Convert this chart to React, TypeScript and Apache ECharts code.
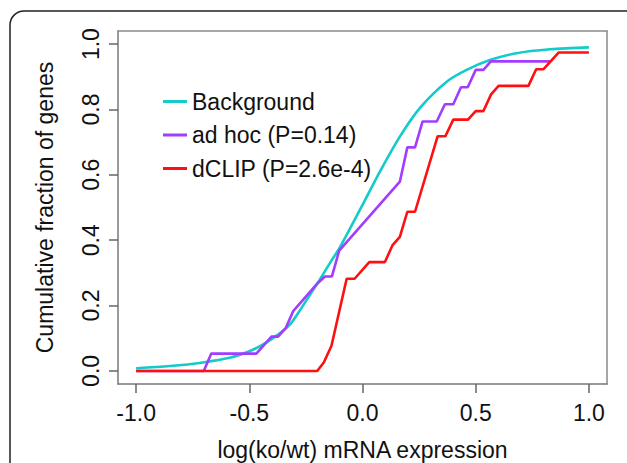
import React, { useEffect, useRef } from "react";
import * as echarts from "echarts";

const xTicks = [-1.0, -0.5, 0.0, 0.5, 1.0];
const yTicks = [0.0, 0.2, 0.4, 0.6, 0.8, 1.0];

const seriesNames = ["Background", "ad hoc (P=0.14)", "dCLIP (P=2.6e-4)"];
const seriesColors = ["#14CACA", "#A23CFF", "#FF1010"];

const backgroundX = [-1.0, -0.85, -0.705, -0.587, -0.5, -0.439, -0.38, -0.321, -0.277, -0.188, -0.144, -0.1, 0.003, 0.077, 0.165, 0.254, 0.372, 0.46, 0.563, 0.68, 0.829, 1.0];
const backgroundY = [0.008, 0.015, 0.026, 0.04, 0.06, 0.081, 0.108, 0.142, 0.185, 0.28, 0.33, 0.378, 0.512, 0.61, 0.717, 0.805, 0.885, 0.921, 0.951, 0.972, 0.984, 0.99];

const adhocX = [-1.0, -0.701, -0.668, -0.469, -0.402, -0.373, -0.34, -0.306, -0.203, -0.166, -0.135, -0.103, 0.165, 0.198, 0.232, 0.265, 0.328, 0.364, 0.401, 0.435, 0.465, 0.5, 0.534, 0.567, 0.829];
const adhocY = [0.0, 0.0, 0.053, 0.053, 0.105, 0.105, 0.13, 0.183, 0.265, 0.289, 0.289, 0.368, 0.579, 0.684, 0.684, 0.763, 0.763, 0.816, 0.816, 0.868, 0.868, 0.921, 0.921, 0.947, 0.947];

const dclipX = [-1.0, -0.2, -0.171, -0.137, -0.07, -0.035, 0.03, 0.099, 0.133, 0.165, 0.198, 0.232, 0.332, 0.366, 0.401, 0.466, 0.5, 0.534, 0.568, 0.601, 0.733, 0.767, 0.8, 0.866, 1.0];
const dclipY = [0.0, 0.0, 0.026, 0.077, 0.282, 0.282, 0.333, 0.333, 0.385, 0.41, 0.487, 0.487, 0.718, 0.718, 0.769, 0.769, 0.795, 0.795, 0.846, 0.872, 0.872, 0.923, 0.923, 0.974, 0.974];

const xTitle = "log(ko/wt) mRNA expression";
const yTitle = "Cumulative fraction of genes";

const FONT = "'Liberation Sans', Arial, Helvetica, sans-serif";
const BOX = "#8a8a8a";

function zip(xs: number[], ys: number[]) {
  return xs.map((x, i) => [x, ys[i]]);
}

export default function App() {
  const ref = useRef<HTMLDivElement>(null);
  useEffect(() => {
    if (!ref.current) return;
    const chart = echarts.init(ref.current, null, { renderer: "svg" });
    const fmt = (v: number) => v.toFixed(1);
    const dataSets = [zip(backgroundX, backgroundY), zip(adhocX, adhocY), zip(dclipX, dclipY)];
    const boxAxis = {
      type: "value",
      axisLine: { show: true, onZero: false, lineStyle: { color: BOX, width: 1.5 } },
      axisTick: { show: false },
      axisLabel: { show: false },
      splitLine: { show: false },
    };
    chart.setOption({
      animation: false,
      backgroundColor: "#ffffff",
      textStyle: { fontFamily: FONT },
      grid: {
        left: 118,
        right: 20,
        top: 31,
        bottom: 79,
        containLabel: false,
        outerBoundsMode: "none",
      },
      xAxis: [
        {
          type: "value",
          position: "bottom",
          min: -1.08,
          max: 1.08,
          name: xTitle,
          nameLocation: "middle",
          nameGap: 54,
          nameTextStyle: { fontSize: 23, color: "#111", fontFamily: FONT },
          axisLine: { show: true, onZero: false, lineStyle: { color: "#777", width: 1.5 } },
          splitLine: { show: false },
          axisTick: {
            show: true,
            length: 9,
            customValues: xTicks,
            lineStyle: { color: "#666", width: 1.5 },
          },
          axisLabel: {
            customValues: xTicks,
            formatter: fmt,
            margin: 17,
            fontSize: 23,
            color: "#111",
            fontFamily: FONT,
          },
        },
        { ...boxAxis, position: "top", min: -1.08, max: 1.08 },
      ],
      yAxis: [
        {
          type: "value",
          position: "left",
          min: -0.04,
          max: 1.04,
          name: yTitle,
          nameLocation: "middle",
          nameGap: 62,
          nameRotate: 90,
          nameTextStyle: { fontSize: 23, color: "#111", fontFamily: FONT },
          axisLine: { show: true, onZero: false, lineStyle: { color: "#777", width: 1.5 } },
          splitLine: { show: false },
          axisTick: {
            show: true,
            length: 9,
            customValues: yTicks,
            lineStyle: { color: "#666", width: 1.5 },
          },
          axisLabel: {
            customValues: yTicks,
            formatter: fmt,
            rotate: 90,
            margin: 16,
            fontSize: 23,
            color: "#111",
            fontFamily: FONT,
          },
        },
        { ...boxAxis, position: "right", min: -0.04, max: 1.04 },
      ],
      legend: {
        orient: "vertical",
        left: 158,
        top: 85,
        itemWidth: 24,
        itemHeight: 3,
        itemGap: 10.5,
        icon: "rect",
        textStyle: { fontSize: 23, lineHeight: 23, color: "#111", fontFamily: FONT },
        data: seriesNames,
      },
      series: seriesNames.map((name, i) => ({
        name,
        type: "line",
        xAxisIndex: 0,
        yAxisIndex: 0,
        data: dataSets[i],
        showSymbol: false,
        symbol: "none",
        smooth: i === 0 ? 0.3 : false,
        lineStyle: { color: seriesColors[i], width: 2.6 },
        itemStyle: { color: seriesColors[i] },
        z: 2 + i,
      })),
      graphic: [
        {
          type: "rect",
          shape: { x: 10, y: 11, width: 630, height: 480, r: 14 },
          style: { fill: "none", stroke: "#222", lineWidth: 1.5 },
          silent: true,
        },
      ],
    });
    return () => chart.dispose();
  }, []);
  return (
    <div
      ref={ref}
      style={{ position: "fixed", left: 0, top: 0, width: 627, height: 463 }}
    />
  );
}
